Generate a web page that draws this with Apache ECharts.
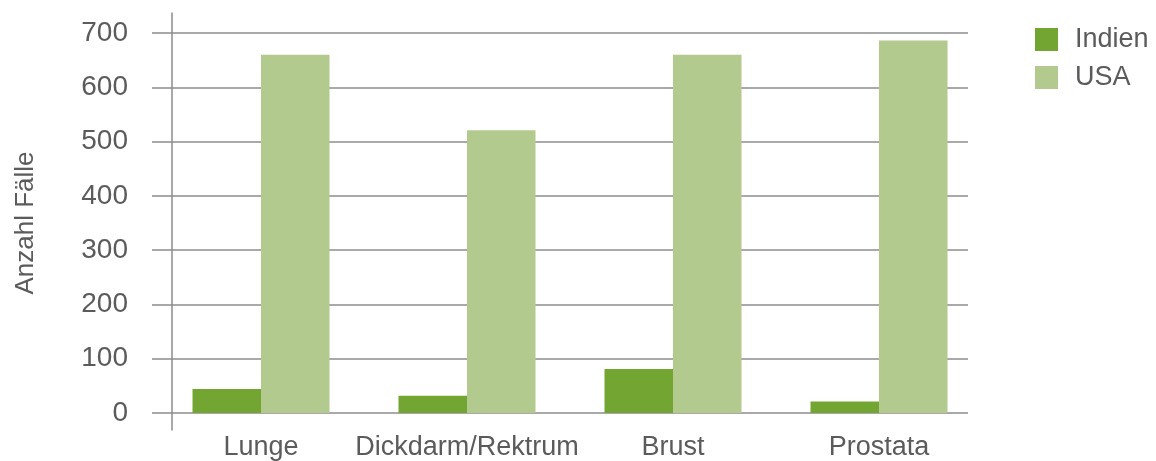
<!DOCTYPE html>
<html>
<head>
<meta charset="utf-8">
<script src="https://cdn.jsdelivr.net/npm/echarts@6/dist/echarts.min.js"></script>
<style>
  html, body { margin: 0; padding: 0; background: #fff; }
  #chart { width: 1156px; height: 461px; }
</style>
</head>
<body>
<div id="chart"></div>
<script>
// Daten
const categories = ['Lunge', 'Dickdarm/Rektrum', 'Brust', 'Prostata']
const indien = [44, 32, 81, 21]
const usa = [660, 521, 660, 686]
const yTicks = [0, 100, 200, 300, 400, 500, 600, 700]

const font = "'Liberation Sans', Arial, sans-serif"
const textColor = '#5b5b5b'
const lineColor = '#8c8c90'

const chart = echarts.init(document.getElementById('chart'))

const option = {
  animation: false,
  textStyle: { fontFamily: font },
  legend: {
    orient: 'vertical',
    left: 1030,
    top: 21,
    itemWidth: 23,
    itemHeight: 23,
    itemGap: 11,
    icon: 'rect',
    textStyle: { fontFamily: font, fontSize: 27, color: textColor, padding: [0, 0, 0, 12] },
    data: ['Indien', 'USA']
  },
  grid: [
    // Gitterlinien + Beschriftung
    { left: 172, right: 188, top: 33, bottom: 48, outerBoundsMode: 'none' },
    // Balken
    { left: 158, right: 174, top: 33, bottom: 48, outerBoundsMode: 'none' },
    // y-Achsenlinie
    { left: 172, right: 188, top: 13, bottom: 31, outerBoundsMode: 'none' }
  ],
  xAxis: [
    { gridIndex: 0, type: 'category', data: categories, show: false },
    {
      gridIndex: 1,
      type: 'category',
      data: categories,
      axisLine: { show: false },
      axisTick: { show: false },
      axisLabel: { fontFamily: font, fontSize: 27, color: textColor, margin: 21, interval: 0 }
    },
    { gridIndex: 2, type: 'category', data: categories, show: false }
  ],
  yAxis: [
    {
      gridIndex: 0,
      type: 'value',
      min: 0,
      max: 700,
      interval: 100,
      name: 'Anzahl Fälle',
      nameLocation: 'middle',
      nameGap: 133,
      nameTextStyle: { fontFamily: font, fontSize: 26, color: textColor },
      axisLine: { show: false },
      axisTick: { show: true, length: 20, lineStyle: { color: lineColor, width: 1.5 } },
      axisLabel: {
        fontFamily: font, fontSize: 28, color: textColor, margin: 44,
        formatter: v => (yTicks.includes(v) ? String(v) : '')
      },
      splitLine: { show: true, lineStyle: { color: lineColor, width: 1.5 } }
    },
    { gridIndex: 1, type: 'value', min: 0, max: 700, show: false },
    {
      gridIndex: 2,
      type: 'value',
      min: 0,
      max: 1,
      axisLine: { show: true, lineStyle: { color: lineColor, width: 1.5 } },
      axisTick: { show: false },
      axisLabel: { show: false },
      splitLine: { show: false }
    }
  ],
  series: [
    {
      name: 'Indien',
      type: 'bar',
      xAxisIndex: 1,
      yAxisIndex: 1,
      data: indien,
      barWidth: 68.5,
      barGap: '0%',
      itemStyle: { color: '#73a533' }
    },
    {
      name: 'USA',
      type: 'bar',
      xAxisIndex: 1,
      yAxisIndex: 1,
      data: usa,
      barWidth: 68.5,
      barGap: '0%',
      itemStyle: { color: '#b3ca8e' }
    }
  ]
}

chart.setOption(option)
</script>
</body>
</html>
